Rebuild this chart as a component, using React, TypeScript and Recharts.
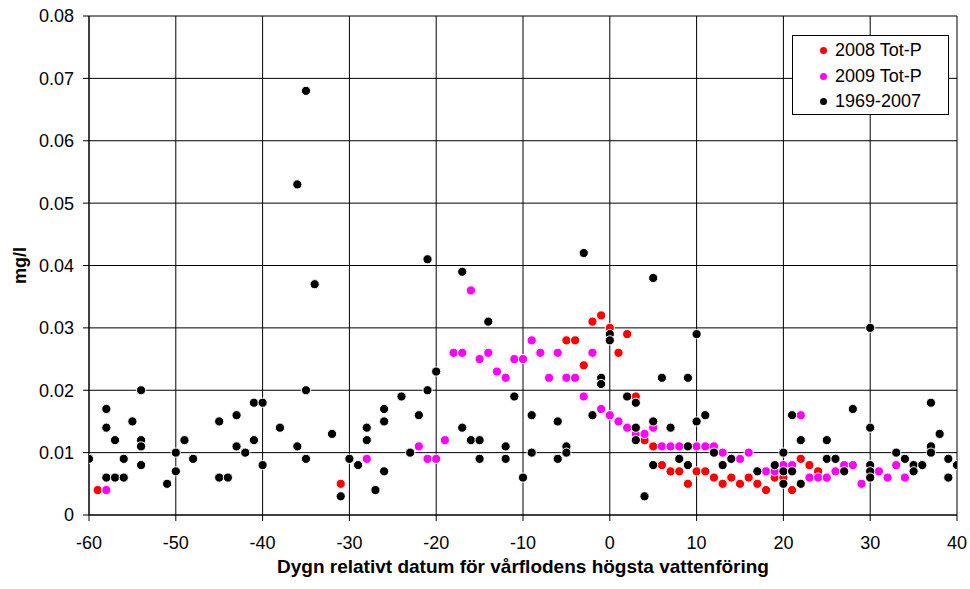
import {
  ScatterChart,
  Scatter,
  XAxis,
  YAxis,
  CartesianGrid,
} from "recharts"

const FONT = "'Liberation Sans', Arial, sans-serif"

// [dygn relativt vårflodstopp, Tot-P mg/l]
const totP2008: [number, number][] = [
  [-59, 0.004], [-31, 0.005], [-5, 0.028], [-4, 0.028], [-3, 0.024], [-2, 0.031],
  [-1, 0.032], [0, 0.03], [1, 0.026], [2, 0.029], [3, 0.019], [4, 0.012],
  [5, 0.011], [6, 0.008], [7, 0.007], [8, 0.007], [9, 0.005], [10, 0.007],
  [11, 0.007], [12, 0.006], [13, 0.005], [14, 0.006], [15, 0.005], [16, 0.006],
  [17, 0.005], [18, 0.004], [19, 0.006], [20, 0.006], [21, 0.004], [22, 0.009],
  [23, 0.008], [24, 0.007],
]

const totP2009: [number, number][] = [
  [-58, 0.004], [-28, 0.009], [-22, 0.011], [-21, 0.009], [-20, 0.009], [-19, 0.012],
  [-18, 0.026], [-17, 0.026], [-16, 0.036], [-15, 0.025], [-14, 0.026], [-13, 0.023],
  [-12, 0.022], [-11, 0.025], [-10, 0.025], [-9, 0.028], [-8, 0.026], [-7, 0.022],
  [-6, 0.026], [-5, 0.022], [-4, 0.022], [-3, 0.019], [-2, 0.026], [-1, 0.017],
  [0, 0.016], [1, 0.015], [2, 0.014], [3, 0.013], [4, 0.013], [5, 0.014],
  [6, 0.011], [7, 0.011], [8, 0.011], [10, 0.011], [11, 0.011], [12, 0.011],
  [13, 0.01], [15, 0.009], [16, 0.01], [18, 0.007], [19, 0.007], [20, 0.008],
  [21, 0.008], [22, 0.016], [23, 0.006], [24, 0.006], [25, 0.006], [26, 0.007],
  [27, 0.008], [28, 0.008], [29, 0.005], [31, 0.007], [32, 0.006], [33, 0.008],
  [34, 0.006],
]

const totP1969_2007: [number, number][] = [
  [-60, 0.009], [-58, 0.017], [-58, 0.014], [-58, 0.006], [-57, 0.012], [-57, 0.006],
  [-56, 0.009], [-56, 0.006], [-55, 0.015], [-54, 0.02], [-54, 0.012], [-54, 0.011],
  [-54, 0.008], [-51, 0.005], [-50, 0.01], [-50, 0.007], [-49, 0.012], [-48, 0.009],
  [-45, 0.015], [-45, 0.006], [-44, 0.006], [-43, 0.016], [-43, 0.011], [-42, 0.01],
  [-41, 0.018], [-41, 0.012], [-40, 0.018], [-40, 0.008], [-38, 0.014], [-36, 0.053],
  [-36, 0.011], [-35, 0.068], [-35, 0.02], [-35, 0.009], [-34, 0.037], [-32, 0.013],
  [-31, 0.003], [-30, 0.009], [-29, 0.008], [-28, 0.014], [-28, 0.012], [-27, 0.004],
  [-26, 0.017], [-26, 0.015], [-26, 0.007], [-24, 0.019], [-23, 0.01], [-22, 0.016],
  [-21, 0.041], [-21, 0.02], [-20, 0.023], [-17, 0.039], [-17, 0.014], [-16, 0.012],
  [-15, 0.012], [-15, 0.009], [-14, 0.031], [-12, 0.011], [-12, 0.009], [-11, 0.019],
  [-10, 0.006], [-9, 0.016], [-9, 0.01], [-6, 0.015], [-6, 0.009], [-5, 0.011],
  [-5, 0.01], [-3, 0.042], [-2, 0.016], [-1, 0.022], [-1, 0.021], [0, 0.029],
  [0, 0.028], [2, 0.019], [3, 0.018], [3, 0.014], [3, 0.012], [4, 0.003],
  [5, 0.038], [5, 0.015], [5, 0.008], [6, 0.022], [7, 0.014], [8, 0.009],
  [9, 0.022], [9, 0.011], [9, 0.008], [10, 0.029], [10, 0.015], [11, 0.016],
  [12, 0.01], [13, 0.008], [14, 0.009], [17, 0.007], [19, 0.008], [20, 0.01],
  [20, 0.007], [20, 0.005], [21, 0.016], [21, 0.007], [22, 0.012], [22, 0.005],
  [25, 0.012], [25, 0.009], [26, 0.009], [27, 0.007], [28, 0.017], [30, 0.03],
  [30, 0.014], [30, 0.008], [30, 0.007], [30, 0.006], [33, 0.01], [34, 0.009],
  [35, 0.008], [35, 0.007], [36, 0.008], [37, 0.018], [37, 0.011], [37, 0.01],
  [38, 0.013], [39, 0.009], [39, 0.006], [40, 0.008],
]

const xTicks = [-60, -50, -40, -30, -20, -10, 0, 10, 20, 30, 40]
const yTicks = [0, 0.01, 0.02, 0.03, 0.04, 0.05, 0.06, 0.07, 0.08]

const series = [
  { name: "2008 Tot-P", color: "#ff0000", points: totP2008 },
  { name: "2009 Tot-P", color: "#ff00ff", points: totP2009 },
  { name: "1969-2007", color: "#000000", points: totP1969_2007 },
]

function toRows(points: [number, number][]) {
  return points.map(([day, value]) => ({ day, value }))
}

function dot(color: string) {
  return (props: any) => (
    <circle cx={props.cx} cy={props.cy} r={4.6} fill={color} stroke="#fff" strokeWidth={1} />
  )
}

function YLabel({ viewBox }: any) {
  const cy = viewBox.y + viewBox.height / 2
  return (
    <text
      x={20}
      y={cy}
      transform={`rotate(-90, 20, ${cy})`}
      textAnchor="middle"
      dominantBaseline="central"
      fontFamily={FONT}
      fontWeight="bold"
      fontSize={18}
      fill="#000"
    >
      mg/l
    </text>
  )
}

function XLabel({ viewBox }: any) {
  return (
    <text
      x={viewBox.x + viewBox.width / 2}
      y={viewBox.y + 58}
      textAnchor="middle"
      fontFamily={FONT}
      fontWeight="bold"
      fontSize={19}
      fill="#000"
    >
      Dygn relativt datum för vårflodens högsta vattenföring
    </text>
  )
}

// legenden ligger ovanpå diagrammet så att plottytan inte krymper
function LegendBox() {
  return (
    <div
      style={{
        position: "absolute",
        left: 792,
        top: 35,
        width: 157,
        height: 80,
        border: "1px solid #000",
        background: "#fff",
        fontFamily: FONT,
        fontSize: 18,
        color: "#000",
        paddingTop: 2,
        boxSizing: "border-box",
      }}
    >
      {series.map((s) => (
        <div key={s.name} style={{ display: "flex", alignItems: "center", height: 25.5 }}>
          <span
            style={{
              display: "inline-block",
              width: 7,
              height: 7,
              borderRadius: "50%",
              background: s.color,
              marginLeft: 27,
              marginRight: 8,
            }}
          />
          <span>{s.name}</span>
        </div>
      ))}
    </div>
  )
}

export default function App() {
  return (
    <div style={{ position: "absolute", left: 0, top: 0, width: 970, height: 589, background: "#fff" }}>
      <ScatterChart width={970} height={589} margin={{ top: 16, right: 13, bottom: 0, left: 0 }}>
        <CartesianGrid stroke="#000" strokeWidth={1} />
        <XAxis
          type="number"
          dataKey="day"
          domain={[-60, 40]}
          ticks={xTicks}
          interval={0}
          height={74}
          tickSize={6}
          tickMargin={15}
          stroke="#000"
          tick={{ fill: "#000", fontSize: 18, fontFamily: FONT }}
          label={<XLabel />}
          allowDataOverflow
        />
        <YAxis
          type="number"
          dataKey="value"
          domain={[0, 0.08]}
          ticks={yTicks}
          interval={0}
          width={89}
          tickSize={6}
          tickMargin={9}
          stroke="#000"
          tick={{ fill: "#000", fontSize: 18, fontFamily: FONT }}
          tickFormatter={(v: number) => (v === 0 ? "0" : v.toFixed(2))}
          label={<YLabel />}
          allowDataOverflow
        />
        {series.map((s) => (
          <Scatter
            key={s.name}
            name={s.name}
            data={toRows(s.points)}
            fill={s.color}
            shape={dot(s.color)}
            isAnimationActive={false}
          />
        ))}
      </ScatterChart>
      <LegendBox />
    </div>
  )
}
